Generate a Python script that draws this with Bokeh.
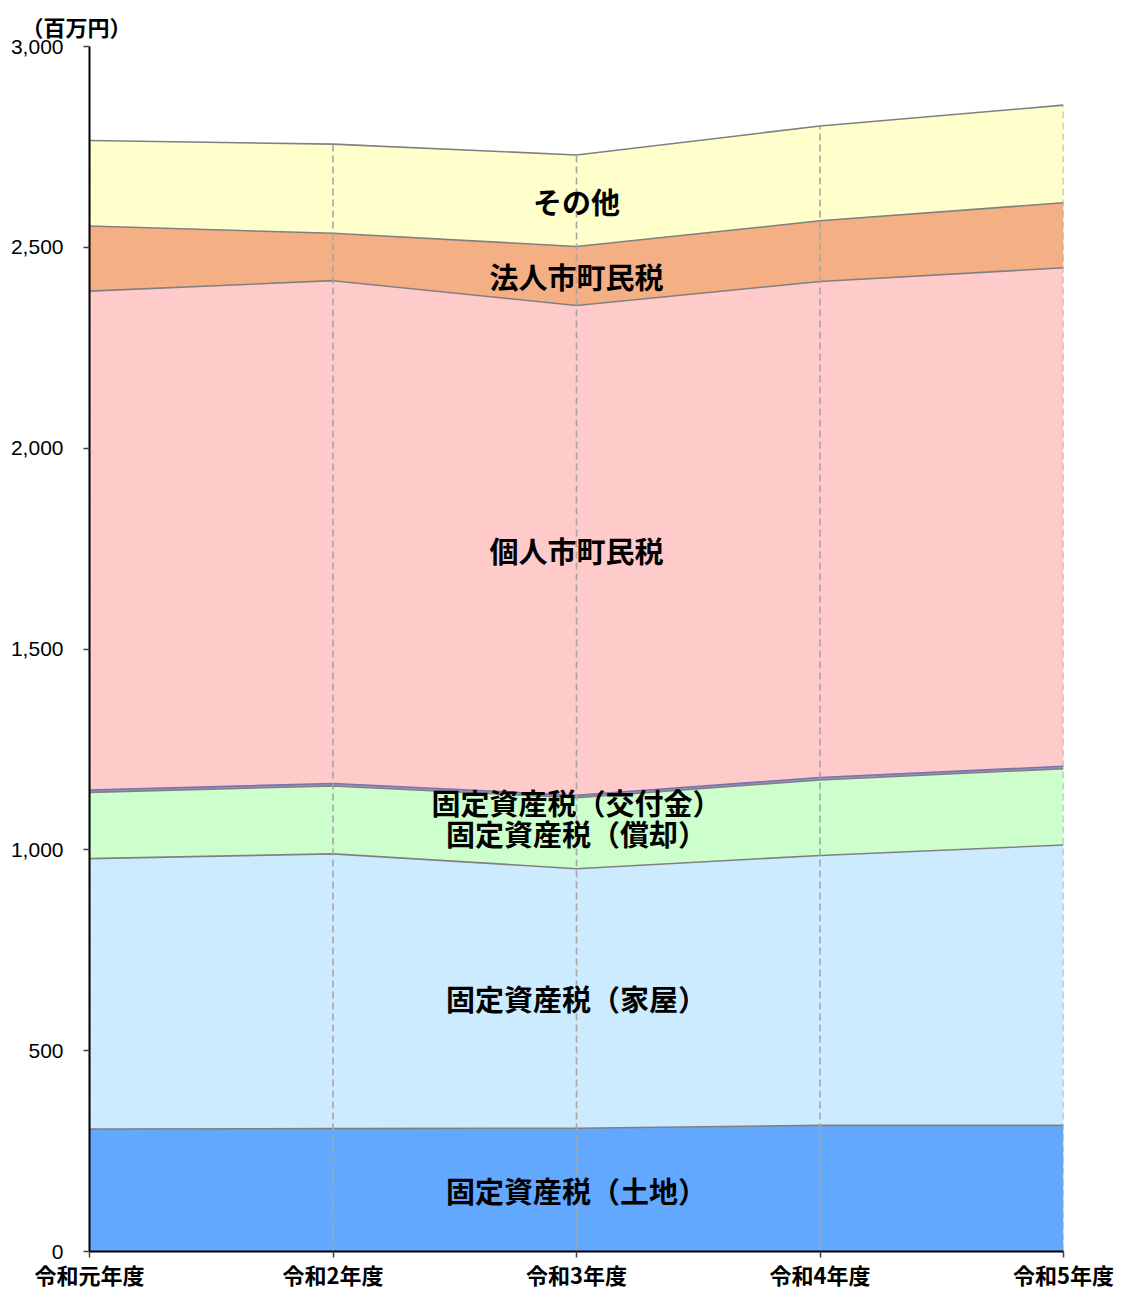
import numpy as np
from bokeh.plotting import figure
from bokeh.models import Range1d, FixedTicker, Label, ColumnDataSource, Title
from bokeh.embed import file_html
from bokeh.resources import INLINE

years = ["令和元年度", "令和2年度", "令和3年度", "令和4年度", "令和5年度"]
tochi = [305, 306, 307, 314, 314]          # 固定資産税(土地)
kaoku = [673, 684, 646, 672, 698]          # 固定資産税(家屋)
shokyaku = [165, 169, 177, 188, 190]       # 固定資産税(償却)
kofukin = [6, 6, 6, 6, 6]                  # 固定資産税(交付金)
kojin = [1242, 1252, 1219, 1235, 1241]     # 個人市町民税
hojin = [162, 118, 147, 151, 162]          # 法人市町民税
sonota = [213, 222, 228, 236, 243]         # その他

series_names = ["固定資産税（土地）", "固定資産税（家屋）", "固定資産税（償却）",
                "固定資産税（交付金）", "個人市町民税", "法人市町民税", "その他"]
series = [tochi, kaoku, shokyaku, kofukin, kojin, hojin, sonota]
colors = ["#62a8ff", "#cdebff", "#ccffcc", "#9c94cc", "#ffcaca", "#f4b084", "#ffffcc"]
y_ticks = [0, 500, 1000, 1500, 2000, 2500, 3000]

FONT = "Noto Sans CJK JP"
xs = list(range(len(years)))
keys = ["s%d" % i for i in range(len(series))]
data = {"x": xs}
for k, s in zip(keys, series):
    data[k] = s
src = ColumnDataSource(data)

p = figure(width=1114, height=1292, output_backend="svg", toolbar_location=None,
           x_range=Range1d(0, len(years) - 1), y_range=Range1d(0, 3000),
           min_border_left=89, min_border_top=46, min_border_right=51, min_border_bottom=41)
p.outline_line_color = None
p.background_fill_color = "white"

p.add_layout(Title(text="（百万円）", align="left", offset=-68, standoff=9,
                   text_font=FONT, text_font_style="bold", text_font_size="22px",
                   text_color="black"), "above")

p.varea_stack(stackers=keys, x="x", color=colors, source=src)

cum = np.cumsum(np.array(series, dtype=float), axis=0)
for i, row in enumerate(cum):
    lc = "#7a72a8" if i == 3 else "#808080"
    p.line(xs, list(row), line_color=lc, line_width=1.6)

# drop lines
p.segment(x0=xs, y0=[0] * len(xs), x1=xs, y1=list(cum[-1]),
          line_color="#a6a6a6", line_width=1.6, line_dash="7 4")

# axes
p.xaxis.ticker = FixedTicker(ticks=xs)
p.xaxis.major_label_overrides = {i: y for i, y in enumerate(years)}
p.xaxis.major_label_text_font = FONT
p.xaxis.major_label_text_font_style = "bold"
p.xaxis.major_label_text_font_size = "22px"
p.xaxis.major_label_text_color = "black"
p.xaxis.major_label_standoff = 0
p.yaxis.ticker = FixedTicker(ticks=y_ticks)
p.yaxis.major_label_overrides = {t: f"{t:,}" for t in y_ticks}
p.yaxis.major_label_text_font = "Liberation Sans"
p.yaxis.major_label_text_font_size = "21px"
p.yaxis.major_label_text_color = "black"
p.yaxis.major_label_standoff = 20
for ax in (p.xaxis, p.yaxis):
    ax.axis_line_color = "black"
    ax.axis_line_width = 2
    ax.major_tick_line_color = "#404040"
    ax.major_tick_line_width = 1.5
    ax.major_tick_out = 6
    ax.major_tick_in = 0
    ax.minor_tick_line_color = None
    ax.axis_label_standoff = 0

p.xgrid.grid_line_color = None
p.ygrid.ticker = FixedTicker(ticks=[3000])
p.ygrid.grid_line_color = "#d9d9d9"
p.ygrid.grid_line_width = 2

# layer labels (centered in each layer at the middle year)
mid = 2
bottoms = [0.0] + [cum[i][mid] for i in range(len(series) - 1)]
tops = [cum[i][mid] for i in range(len(series))]
for i, name in enumerate(series_names):
    if i == 3:
        ypos = tops[2] - 10
    else:
        ypos = (bottoms[i] + tops[i]) / 2
    p.add_layout(Label(x=mid, y=ypos, text=name, text_align="center",
                       text_baseline="middle", text_font=FONT,
                       text_font_style="bold", text_font_size="29px",
                       text_color="black"))

open("out.html", "w").write(file_html(p, INLINE))
